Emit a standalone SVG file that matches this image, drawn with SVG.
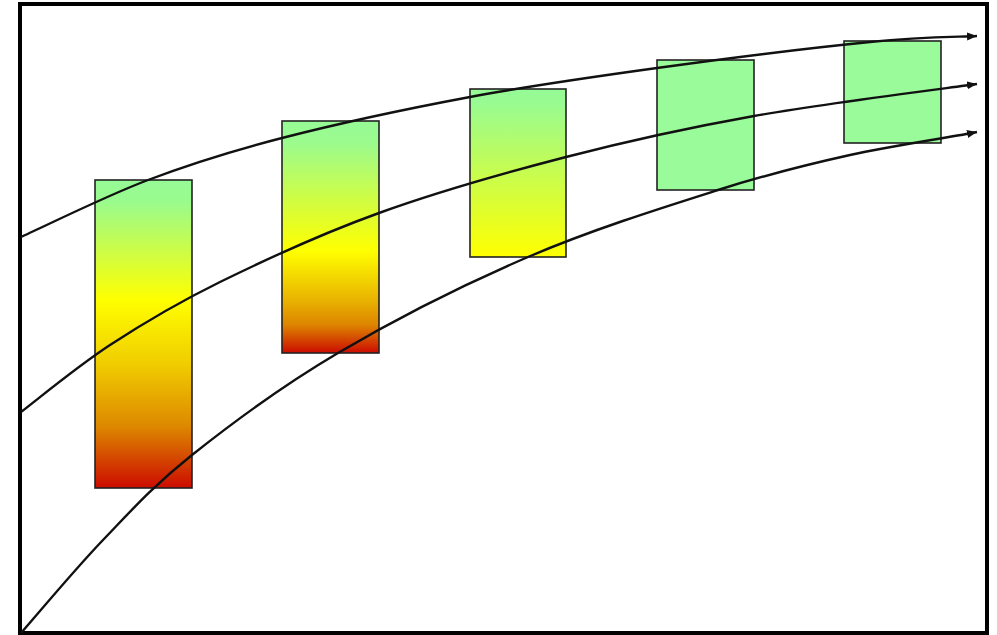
<svg xmlns="http://www.w3.org/2000/svg" width="997" height="635" viewBox="0 0 997 635">
<style>
.box{stroke:#222;stroke-width:1.6}
.curve{fill:none;stroke:#111;stroke-width:2.4;marker-end:url(#arrow)}
</style>
<defs>
<marker id="arrow" markerUnits="userSpaceOnUse" markerWidth="12" markerHeight="10" refX="10" refY="4" orient="auto">
<path d="M0,0 L10,4 L0,8 Z" fill="#111"/>
</marker>
<linearGradient id="g1" x1="0" y1="0" x2="0" y2="1">
<stop offset="0" stop-color="#96FA96"/>
<stop offset="0.07" stop-color="#99FB8E"/>
<stop offset="0.39" stop-color="#FFFF00"/>
<stop offset="0.6" stop-color="#F0CC00"/>
<stop offset="0.8" stop-color="#DD8800"/>
<stop offset="1" stop-color="#CC0C00"/>
</linearGradient>
<linearGradient id="g2" x1="0" y1="0" x2="0" y2="1">
<stop offset="0" stop-color="#96FA96"/>
<stop offset="0.1" stop-color="#9CFB8C"/>
<stop offset="0.56" stop-color="#FFFF00"/>
<stop offset="0.78" stop-color="#E8B000"/>
<stop offset="0.88" stop-color="#DD8400"/>
<stop offset="1" stop-color="#CC0C00"/>
</linearGradient>
<linearGradient id="g3" x1="0" y1="0" x2="0" y2="1">
<stop offset="0" stop-color="#96FA96"/>
<stop offset="0.08" stop-color="#98FB92"/>
<stop offset="1" stop-color="#FFFF00"/>
</linearGradient>
</defs>
<rect x="0" y="0" width="997" height="635" fill="#fff"/>
<rect id="frame" x="20" y="4" width="967" height="629" fill="#fff" stroke="#000" stroke-width="4"/>
<g id="box1"><rect class="box" x="95" y="180" width="97" height="308" fill="url(#g1)"/></g>
<g id="box2"><rect class="box" x="282" y="121" width="97" height="232" fill="url(#g2)"/></g>
<g id="box3"><rect class="box" x="470" y="89" width="96" height="168" fill="url(#g3)"/></g>
<g id="box4"><rect class="box" x="657" y="60" width="97" height="130" fill="#99FB99"/></g>
<g id="box5"><rect class="box" x="844" y="41" width="97" height="102" fill="#99FB99"/></g>
<g id="connectors">
<path class="curve" d="M21,237 C42.2,227.5 104.5,196.5 148,180 C191.5,163.5 228.3,151.8 282,138 C335.7,124.2 407.5,108.7 470,97 C532.5,85.3 590.3,77.2 657,68 C723.7,58.8 817,47.3 870,42 C923,36.7 957.5,37 977,36"/>
<path class="curve" d="M21,412 C35.8,400.8 76.8,366.7 110,345 C143.2,323.3 175.2,304 220,282 C264.8,260 321.3,233.8 379,213 C436.7,192.2 503.5,173.2 566,157 C628.5,140.8 685.8,128.2 754,116 C822.2,103.8 938.2,89.3 977,84"/>
<path class="curve" d="M21,633 C34.7,617.5 74.5,569.7 103,540 C131.5,510.3 152.8,486.2 192,455 C231.2,423.8 282,386 338,353 C394,320 464.7,284.2 528,257 C591.3,229.8 664.3,207 718,190 C771.7,173 807.2,164.5 850,155 C892.8,145.5 954.2,136.7 977,132"/>
</g>
</svg>
